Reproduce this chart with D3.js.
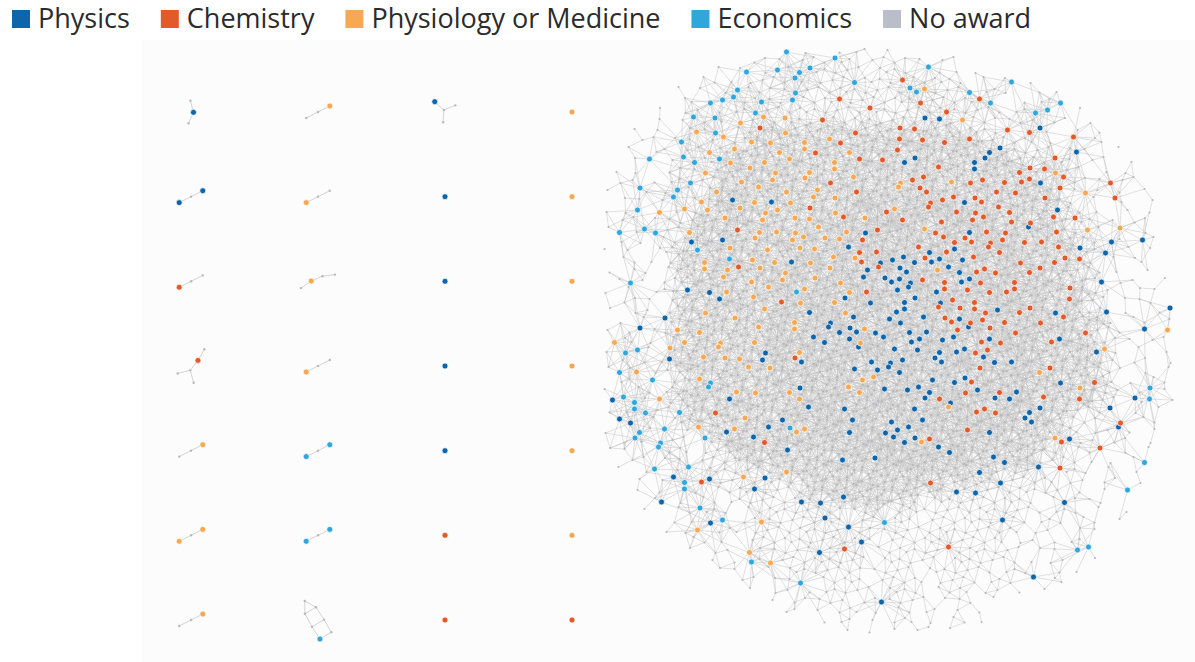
<!DOCTYPE html>
<html>
<head>
<meta charset="utf-8">
<script src="https://cdn.jsdelivr.net/npm/d3@7"></script>
<style>
    body { margin: 0; background: #fff; }
    svg { display: block; font-family: "Open Sans", "Liberation Sans", sans-serif; }
</style>
</head>
<body>
<svg id="chart" width="1195" height="662"></svg>
<script>
// Prize categories and legend colours
const categories = ['Physics', 'Chemistry', 'Physiology or Medicine', 'Economics', 'No award'];
const categoryKeys = ['P', 'C', 'M', 'E', 'N'];
const categoryColors = ['#0f65aa', '#e3592a', '#f6a952', '#2fa6dc', '#b9bec8'];

const physicsCells = "7:31 7:33 8:43 10:38 10:39 10:47 11:29 11:30 11:36 11:37 12:37 13:43 15:12 15:16 15:35 16:45 18:26 18:36 18:42 19:8 19:11 19:50 19:53 20:24 20:32 20:35 20:47 20:50 21:18 21:27 21:28 21:29 21:30 21:32 21:33 21:35 22:26 22:29 22:30 22:34 22:35 23:25 23:27 23:28 23:29 23:30 23:35 23:36 23:49 24:8 24:10 24:29 24:30 24:33 25:11 25:23 25:26 25:29 25:30 25:33 26:20 26:29 26:30 26:39 26:45 26:50 26:56 27:5 27:22 27:24 27:28 27:29 27:31 27:35 28:3 28:22 28:23 28:24 28:25 28:27 28:30 28:32 28:36 28:54 29:20 29:21 29:24 29:27 29:30 29:31 29:33 29:34 29:38 29:45 30:16 30:25 30:29 30:31 30:33 30:35 30:36 30:49 31:6 31:15 31:19 31:26 31:28 31:29 31:32 31:33 31:37 31:38 31:40 32:25 32:27 32:28 32:29 33:32 33:34 33:35 33:45 34:19 34:28 34:30 34:31 34:32 34:37 34:41 35:0 35:12 35:31 35:34 35:38 35:40 35:52 36:20 36:24 36:31 36:42 36:43 36:50 37:1 37:2 37:17 37:24 37:28 37:31 37:41 37:42 38:12 38:16 38:24 38:28 38:29 38:30 38:38 38:51 39:14 39:28 39:29 39:30 39:46 40:18 40:33 40:34 41:23 41:26 41:38 41:39 42:37 42:43 43:6 43:10 43:15 43:39 44:15 44:35 44:37 45:5 45:19 45:21 45:23 45:45 47:10 47:21 47:39 48:24 49:25 50:21 53:42 55:27";

const chemistryCells = "3:29 5:23 5:31 5:37 6:26 6:34 7:21 8:15 8:25 8:29 8:31 8:40 8:42 9:23 9:29 9:31 9:33 9:36 9:46 10:21 10:29 11:25 11:27 11:44 12:33 12:41 12:42 12:44 13:22 13:30 13:31 13:36 13:37 13:39 13:41 13:42 13:45 13:50 14:25 14:31 14:32 14:39 14:41 14:45 15:32 15:33 15:34 15:36 15:37 15:43 15:50 16:20 16:28 16:32 16:35 16:37 16:39 16:40 17:23 17:29 17:33 17:36 17:37 17:40 17:42 17:44 17:46 18:13 18:27 18:33 18:38 18:40 18:45 19:25 19:33 19:34 19:35 19:36 19:38 19:39 19:41 19:43 20:25 20:27 20:31 20:34 20:38 20:39 20:45 21:25 21:31 21:36 21:41 21:44 21:45 21:47 22:13 22:27 22:37 22:38 22:39 22:42 22:43 23:31 23:33 23:37 23:40 24:26 24:34 24:36 24:38 24:40 24:41 24:46 25:17 25:34 25:36 25:46 26:33 26:35 26:37 26:38 26:41 26:42 27:33 27:34 27:36 27:37 27:39 27:43 27:45 28:35 28:38 28:41 28:48 29:37 29:39 29:44 30:37 30:38 31:18 32:37 32:44 33:36 33:48 34:36 34:39 35:33 35:43 35:47 36:11 36:37 36:38 36:39 37:51 38:36 39:15 39:32 39:45 40:49 42:45 43:9 43:32 50:24 50:34";

const medicineCells = "4:32 7:13 7:15 7:17 7:35 8:9 8:18 9:11 9:14 9:16 9:19 9:22 10:10 10:13 10:17 10:20 10:24 11:12 11:15 11:18 11:22 12:10 12:14 12:17 12:20 12:23 12:45 13:13 13:16 13:19 13:24 13:29 13:34 14:11 14:15 14:18 14:21 14:29 14:48 15:9 15:14 15:18 15:20 15:22 16:5 16:8 16:10 16:13 16:16 16:17 16:23 16:29 17:11 17:15 17:18 17:20 17:25 18:8 18:15 18:17 18:19 18:21 18:24 18:32 18:48 18:51 19:14 19:18 19:19 19:21 19:23 20:12 20:16 20:19 20:21 21:9 21:14 21:16 21:20 21:22 21:24 22:10 22:12 22:15 22:18 22:22 22:33 23:11 23:14 23:17 23:20 23:23 24:12 24:16 24:20 24:24 25:14 25:19 25:22 26:10 26:16 26:24 27:12 27:18 28:7 28:9 28:15 28:19 28:26 28:56 29:0 29:7 29:11 29:14 29:25 30:6 30:11 30:19 30:50 31:9 31:11 31:13 32:3 32:14 32:16 32:43 33:9 33:25 33:26 34:13 34:15 34:18 34:24 34:25 34:47 35:5 35:19 36:34 37:13 38:9 38:13 38:19 38:20 39:31 39:44 42:18 43:13 47:15 48:9 50:14 51:16";

const economicsCells = "0:18 1:22 2:14 2:17 2:19 2:20 2:32 3:18 3:24 3:40 4:13 4:19 4:30 4:31 4:36 5:10 5:11 5:12 5:15 5:18 5:38 5:45 6:15 6:43 6:44 7:8 7:10 8:11 9:7 11:4 11:7 11:8 11:11 13:8 14:3 14:7 15:6 16:3 18:1 18:4 18:5 20:9 21:12 23:2 24:19 30:2 30:3 32:1 33:4 33:10 34:10 34:54 35:1 35:2 35:54 36:3 36:4 36:7 38:3 38:6 38:18 39:2 39:5 39:9 40:5 41:53 42:5 42:8 43:7 44:8 44:52 46:9 47:11 47:27 50:47 50:48 51:14 53:19";

// No-award nodes on the same grid: '.' one node, ':' two nodes, '#' two densely linked nodes
const sp = n => ' '.repeat(n), dt = n => '.'.repeat(n), co = n => ':'.repeat(n), hs = n => '#'.repeat(n);
const noAwardMap = [
    sp(18) + ". .  . .. .",
    sp(14) + ".. . ... .. .... . ..",
    sp(11) + ". .. .... ..... .... .. . .",
    sp(9) + ".. . ...... ........ ...... . .. .",
    sp(7) + ". .  ..." + ".. ." + dt(17) + ". .." + ".  . .",
    sp(6) + " .. . " + " ..." + dt(20) + "... " + " . .. ",
    sp(5) + ".  .. " + ". .." + dt(23) + ".. ." + ". .  .",
    sp(4) + " . . ." + ".. ." + dt(25) + " ..." + " ..  .",
    sp(3) + ". .  ." + "... " + dt(3) + co(19) + dt(5) + ". .." + ".  . .",
    sp(2) + " .. . " + ". .." + dt(2) + co(24) + dt(3) + ".. ." + " . .. ",
    sp(2) + ".  .. " + ".. ." + dt(1) + co(27) + dt(2) + "... " + ". .  .",
    sp(1) + " . . ." + " ..." + dt(1) + co(30) + dt(1) + ". .." + " ..  .",
    sp(1) + ". .  ." + ". .." + dt(1) + co(30) + dt(1) + ".. ." + ".  . .",
    " .. . " + ".. ." + dt(1) + co(33) + " ..." + " . .. ",
    ".  .. " + "... " + dt(1) + co(34) + ". .." + ". .  .",
    " . . ." + ". .." + dt(1) + co(34) + ".. ." + " ..  .",
    ". .  ." + " ..." + ":" + co(14) + hs(11) + co(9) + "... " + ".  . .",
    " .. . " + "...:" + ":" + co(12) + hs(15) + co(7) + ":..." + " . .. ",
    ".  .. " + "..::" + ":" + co(10) + hs(18) + co(6) + ":..." + ". .  .",
    " . . ." + "..::" + ":" + co(9) + hs(20) + co(5) + "::.." + " ..  .",
    ". .  ." + ".:::" + ":" + co(8) + hs(22) + co(4) + "::.." + ".  . .",
    " .. . " + "..::" + ":" + co(7) + hs(24) + co(3) + ":::." + " . .. ",
    ".  .. " + ".:::" + ":" + co(6) + hs(26) + co(2) + "::.." + ". .  .",
    " . . ." + "..::" + ":" + co(6) + hs(26) + co(3) + "::.." + " ..  .",
    ". .  ." + ".:::" + ":" + co(6) + hs(26) + co(3) + ":::." + ".  . .",
    " .. . " + "..::" + ":" + co(6) + hs(26) + co(3) + "::.." + " . .. ",
    ".  .. " + ".:::" + ":" + co(6) + hs(26) + co(3) + "::.." + ". .  .",
    " . . ." + "..::" + ":" + co(6) + hs(26) + co(4) + ":::." + " ..  .",
    ". .  ." + ".:::" + ":" + co(6) + hs(26) + co(4) + "::.." + ".  . .",
    " .. . " + "..::" + ":" + co(6) + hs(26) + co(4) + "::.." + " . .. ",
    ".  .. " + ".:::" + ":" + co(6) + hs(26) + co(4) + ":::." + ". .  .",
    " . . ." + "..::" + ":" + co(6) + hs(26) + co(4) + "::.." + " ..  .",
    ". .  ." + ".:::" + ":" + co(6) + hs(26) + co(3) + ":" + "::.." + ".  . .",
    " .. . " + "..::" + ":" + co(6) + hs(26) + co(3) + ":" + ":::." + " . .. ",
    ".  .. " + ".:::" + ":" + co(7) + hs(24) + co(4) + ":" + "::.." + ". .  .",
    " . . ." + "..::" + ":" + co(7) + hs(24) + co(4) + ":" + "::.." + " ..  .",
    ". .  ." + "..::" + ":" + co(8) + hs(22) + co(4) + ":" + ":..." + ".  . .",
    " .. . " + "...:" + ":" + co(9) + hs(20) + co(5) + ":" + "... " + " . .. ",
    ".  .. " + ". .." + dt(1) + co(10) + hs(18) + co(6) + dt(1) + ".. ." + ". .  .",
    " . . ." + ".. ." + dt(2) + co(10) + hs(16) + co(6) + dt(1) + " ..." + " ..  .",
    ". .  ." + "... " + dt(2) + co(12) + hs(12) + co(8) + dt(1) + ". .." + ".  . .",
    sp(1) + " .. . " + ". .." + dt(2) + co(13) + hs(8) + co(9) + dt(2) + ".. ." + " . .. ",
    sp(1) + ".  .. " + ".. ." + dt(6) + co(22) + dt(5) + " ..." + ". .  .",
    sp(2) + " . . ." + " ..." + dt(8) + co(17) + dt(7) + ". .." + " ..  .",
    sp(3) + ". .  ." + ". .." + dt(3) + "...." + co(14) + " ....." + dt(3) + "... " + ".  . .",
    sp(3) + " .. . " + ".. ." + dt(4) + "......" + co(8) + " ......" + dt(3) + ".. ." + " . .. ",
    sp(4) + ".  .. " + "... " + dt(4) + "...... ... .........." + dt(4) + ". .." + ". .  .",
    sp(5) + " . . ." + ". .." + dt(4) + "..... ...... ......" + dt(4) + " ..." + " ..  .",
    sp(6) + ". .  ." + ".. ." + dt(4) + "....... ........" + dt(4) + ".. ." + ".  . .",
    sp(7) + " .. . " + " ..." + ".......... ..........." + ". .." + " . .. ",
    sp(8) + ".  .. " + ".. ." + "........ ............" + "... " + ". .  .",
    sp(9) + " . . ." + ". .." + "....... ...... ....." + ".. ." + " ..  .",
    sp(11) + ". .  ." + " ..." + "..... .... ......" + ". .." + ".  . .",
    sp(12) + " .. . " + ".. ." + ".... ..... ...." + " ..." + " . .. ",
    sp(14) + ".  .. " + ". .." + "... .... .." + ".. ." + ". .  .",
    sp(16) + ". .. ... .. .... . .. .",
    sp(18) + ".. . ... . .. .. . .",
    sp(21) + ". .. . ... . .. .",
    sp(24) + ". .  . .. ."
];

// Small components, read row by row from the 4 x 7 grid on the left
const smallComponents = [
    { cats: 'PNN', links: '0-1 0-2' },
    { cats: 'NNM', links: '0-1 1-2' },
    { cats: 'NNPN', links: '0-1 1-2 1-3' },
    { cats: 'M', links: '' },
    { cats: 'PNP', links: '0-1 1-2' },
    { cats: 'MNN', links: '0-1 1-2' },
    { cats: 'P', links: '' },
    { cats: 'M', links: '' },
    { cats: 'CNN', links: '0-1 1-2' },
    { cats: 'MNNN', links: '0-1 0-2 2-3' },
    { cats: 'P', links: '' },
    { cats: 'M', links: '' },
    { cats: 'CNNNN', links: '0-1 0-2 1-3 1-4' },
    { cats: 'MNN', links: '0-1 1-2' },
    { cats: 'P', links: '' },
    { cats: 'M', links: '' },
    { cats: 'NNM', links: '0-1 1-2' },
    { cats: 'ENE', links: '0-1 1-2' },
    { cats: 'P', links: '' },
    { cats: 'M', links: '' },
    { cats: 'MNM', links: '0-1 1-2' },
    { cats: 'ENE', links: '0-1 1-2' },
    { cats: 'C', links: '' },
    { cats: 'M', links: '' },
    { cats: 'NNM', links: '0-1 1-2' },
    { cats: 'NNNNNNE', links: '0-1 0-2 1-2 1-3 2-4 3-4 3-5 4-6 5-6' },
    { cats: 'C', links: '' },
    { cats: 'C', links: '' }
];

const width = 1195, height = 662;
const svg = d3.select('#chart');
const color = d3.scaleOrdinal().domain(categoryKeys).range(categoryColors);
const edgeColor = '#c2c2c2';
const grayNode = '#b7b9bd';

// Faint panel behind the network
svg.append('rect')
    .attr('x', 142).attr('y', 40)
    .attr('width', width - 142).attr('height', height - 40)
    .attr('fill', '#fcfcfc');

// Legend
const legend = svg.append('g').attr('class', 'legend');
let lx = 12;
categories.forEach((name, i) => {
    const item = legend.append('g').attr('transform', `translate(${lx},0)`);
    item.append('rect')
        .attr('x', 0).attr('y', 10)
        .attr('width', 18).attr('height', 18)
        .attr('fill', categoryColors[i]);
    const label = item.append('text')
        .attr('x', 26).attr('y', 28)
        .attr('font-size', 27)
        .attr('fill', '#2b2b2b')
        .text(name);
    lx += 26 + label.node().getComputedTextLength() + 31;
});

// ---- Large component ----
const nCols = 58, nRows = 59;
const gx = d3.scaleLinear().domain([0, nCols]).range([605, 1185]);
const gy = d3.scaleLinear().domain([0, nRows]).range([45, 635]);

// small in-cell offsets so the reading grid does not show
const jitter = [[0, 0], [0.25, -0.2], [-0.2, 0.3], [0.2, 0.25], [-0.3, -0.1], [0.1, -0.3], [-0.1, 0.2]];
const pairOffset = [[-0.22, -0.18], [0.22, 0.2]];

function cellPos(r, c, k, twin) {
    const j = jitter[(r * 3 + c * 5 + k * 2) % 7];
    const o = twin ? pairOffset[k] : [0, 0];
    const shift = (r % 2) * 0.5 - 0.25;
    return [gx(c + 0.5 + shift + j[0] + o[0]), gy(r + 0.5 + j[1] + o[1])];
}

const cellCat = new Map();
[['P', physicsCells], ['C', chemistryCells], ['M', medicineCells], ['E', economicsCells]].forEach(([key, list]) => {
    list.trim().split(/\s+/).forEach(t => {
        if (!cellCat.has(t)) cellCat.set(t, key);
    });
});

const blobNodes = [];
cellCat.forEach((cat, t) => {
    const [r, c] = t.split(':').map(Number);
    const [x, y] = cellPos(r, c, 0, false);
    blobNodes.push({ cat, x, y, hub: true, level: 0 });
});

const levelOf = { '.': 0, ':': 1, '#': 2 };
noAwardMap.forEach((row, r) => {
    for (let c = 0; c < row.length; c++) {
        const ch = row[c];
        if (!(ch in levelOf)) continue;
        const taken = cellCat.has(r + ':' + c);
        if (ch === '.') {
            if (!taken) {
                const [x, y] = cellPos(r, c, 0, false);
                blobNodes.push({ cat: 'N', x, y, hub: false, level: 0 });
            }
        } else {
            for (let k = taken ? 1 : 0; k < 2; k++) {
                const [x, y] = cellPos(r, c, k, true);
                blobNodes.push({ cat: 'N', x, y, hub: false, level: levelOf[ch] });
            }
        }
    }
});

// Links: Delaunay neighbours within reach; laureates and inner nodes also reach second neighbours
const delaunay = d3.Delaunay.from(blobNodes, d => d.x, d => d.y);
const dist = (a, b) => Math.hypot(a.x - b.x, a.y - b.y);
const reachOf = d => d.hub ? 32 : [0, 18, 24][d.level];
const edgePath = d3.path();
const { triangles, halfedges } = delaunay;
for (let e = 0; e < triangles.length; e++) {
    if (e > halfedges[e]) {
        const a = blobNodes[triangles[e]];
        const b = blobNodes[triangles[e % 3 === 2 ? e - 2 : e + 1]];
        if (dist(a, b) < 17) {
            edgePath.moveTo(a.x, a.y);
            edgePath.lineTo(b.x, b.y);
        }
    }
}
blobNodes.forEach((a, i) => {
    const ra = reachOf(a);
    if (!ra) return;
    const first = new Set(delaunay.neighbors(i));
    const seen = new Set();
    first.forEach(n => {
        for (const m of delaunay.neighbors(n)) {
            if (m === i || first.has(m) || seen.has(m)) continue;
            seen.add(m);
            const b = blobNodes[m];
            const rb = reachOf(b);
            if (rb > ra || (rb === ra && m < i)) continue;
            if (dist(a, b) < ra) {
                edgePath.moveTo(a.x, a.y);
                edgePath.lineTo(b.x, b.y);
            }
        }
    });
});

const blob = svg.append('g').attr('class', 'blob');
blob.append('path')
    .attr('d', edgePath.toString())
    .attr('fill', 'none')
    .attr('stroke', edgeColor)
    .attr('stroke-width', 0.5);

blob.selectAll('circle.gray')
    .data(blobNodes.filter(d => !d.hub))
    .join('circle')
    .attr('class', 'gray')
    .attr('cx', d => d.x).attr('cy', d => d.y)
    .attr('r', 1.1)
    .attr('fill', grayNode);

blob.selectAll('circle.laureate')
    .data(blobNodes.filter(d => d.hub))
    .join('circle')
    .attr('class', 'laureate')
    .attr('cx', d => d.x).attr('cy', d => d.y)
    .attr('r', 3)
    .attr('fill', d => color(d.cat))
    .attr('stroke', '#fff')
    .attr('stroke-opacity', 0.8)
    .attr('stroke-width', 0.9);

// ---- Small components ----
const compCol = d3.scaleLinear().domain([0, 3]).range([191, 572]);
const compRow = d3.scaleLinear().domain([0, 6]).range([112, 620]);
const small = svg.append('g').attr('class', 'small');

smallComponents.forEach((comp, i) => {
    const nodes = comp.cats.split('').map(cat => ({ cat }));
    const links = comp.links ? comp.links.split(' ').map(s => {
        const [a, b] = s.split('-').map(Number);
        return { source: a, target: b };
    }) : [];
    const isPath = links.length === nodes.length - 1 &&
        links.every((l, k) => l.source === k && l.target === k + 1);
    if (isPath) {
        nodes.forEach((n, k) => { n.x = k * 8.9; n.y = -k * 4.5; });
    }
    if (nodes.length > 1) {
        const sim = d3.forceSimulation(nodes)
            .force('link', d3.forceLink(links).distance(isPath ? 10 : 8).strength(1))
            .force('charge', d3.forceManyBody().strength(-20))
            .stop();
        for (let t = 0; t < 300; t++) sim.tick();
    } else {
        nodes[0].x = 0; nodes[0].y = 0;
    }
    const xe = d3.extent(nodes, d => d.x), ye = d3.extent(nodes, d => d.y);
    const cx = compCol(i % 4), cy = compRow(Math.floor(i / 4));
    const dx = cx - (xe[0] + xe[1]) / 2, dy = cy - (ye[0] + ye[1]) / 2;

    const g = small.append('g').attr('transform', `translate(${dx},${dy})`);
    g.selectAll('line')
        .data(links)
        .join('line')
        .attr('x1', d => d.source.x).attr('y1', d => d.source.y)
        .attr('x2', d => d.target.x).attr('y2', d => d.target.y)
        .attr('stroke', edgeColor)
        .attr('stroke-width', 0.7);
    g.selectAll('circle')
        .data(nodes)
        .join('circle')
        .attr('cx', d => d.x).attr('cy', d => d.y)
        .attr('r', d => d.cat === 'N' ? 1.2 : 3)
        .attr('fill', d => d.cat === 'N' ? grayNode : color(d.cat))
        .attr('stroke', '#fff')
        .attr('stroke-opacity', 0.8)
        .attr('stroke-width', d => d.cat === 'N' ? 0 : 0.9);
});
</script>
</body>
</html>
